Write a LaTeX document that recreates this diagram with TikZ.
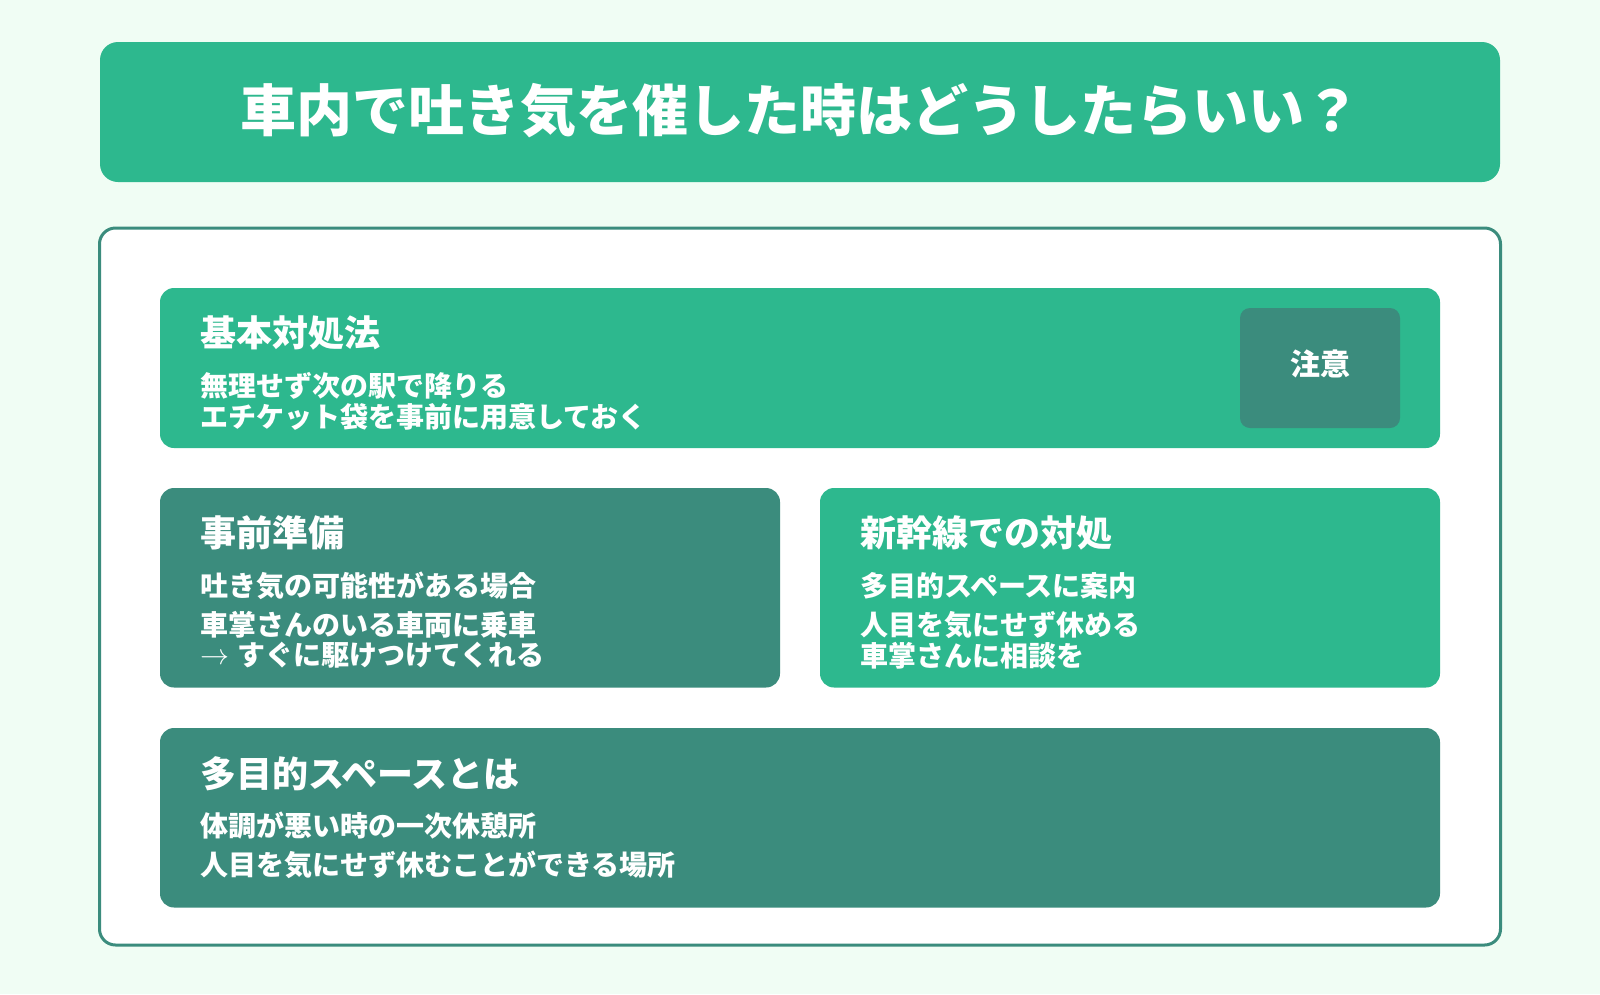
\documentclass[tikz,border=0pt]{standalone}
\usepackage{fontspec}
\setmainfont{Noto Sans CJK JP}
\definecolor{bg}{HTML}{F0FDF4}
\definecolor{grn}{HTML}{2DB88E}
\definecolor{dk}{HTML}{3B8C7D}
\newcommand{\thinarrow}{\raisebox{1pt}{\scalebox{2.9}{\fontsize{10}{12}\selectfont$\rightarrow$}}}
\tikzset{
  card/.style={anchor=north west, inner sep=0pt, outer sep=0pt, rounded corners=14pt},
  head/.style={anchor=west, inner sep=0pt, text=white, font=\bfseries\fontsize{36}{40}\selectfont},
  body/.style={anchor=west, inner sep=0pt, text=white, font=\bfseries\fontsize{28}{32}\selectfont},
}
\begin{document}
\begin{tikzpicture}[x=1pt,y=-1pt]
\path[use as bounding box, fill=bg] (0,0) rectangle (1600,994);
% title
\node[card, fill=grn, rounded corners=18pt, minimum width=1400pt, minimum height=140pt] (titlebox) at (100,42) {};
\node[inner sep=0pt, text=white, font=\bfseries\fontsize{56}{60}\selectfont] (title) at (800,111) {車内で吐き気を催した時はどうしたらいい？};
% outer panel
\node[card, fill=white, draw=dk, line width=3pt, rounded corners=16pt, minimum width=1401pt, minimum height=717pt] (panel) at (99.5,228) {};
% basic
\node[card, fill=grn, minimum width=1280pt, minimum height=160pt] (basic) at (160,288) {};
\node[head] (basich) at (200,333) {基本対処法};
\node[body] (basic1) at (200,385.5) {無理せず次の駅で降りる};
\node[body] (basic2) at (200,416.5) {エチケット袋を事前に用意しておく};
\node[card, fill=dk, rounded corners=10pt, minimum width=160pt, minimum height=120pt] (notebox) at (1240,308) {};
\node[inner sep=0pt, text=white, font=\bfseries\fontsize{30}{34}\selectfont] (note) at (1320,364) {注意};
% prep
\node[card, fill=dk, minimum width=620pt, minimum height=199.5pt] (prep) at (160,488) {};
\node[head] (preph) at (200,532.7) {事前準備};
\node[body] (prep1) at (200,586) {吐き気の可能性がある場合};
\node[body] (prep2) at (200,625.2) {車掌さんのいる車両に乗車};
\node[body, anchor=base west] (prep3) at (200,665.5) {\thinarrow\hspace{8pt}すぐに駆けつけてくれる};
% shinkansen
\node[card, fill=grn, minimum width=620pt, minimum height=199.5pt] (shin) at (820,488) {};
\node[head] (shinh) at (860,532.7) {新幹線での対処};
\node[body] (shin1) at (860,586) {多目的スペースに案内};
\node[body] (shin2) at (860,625.2) {人目を気にせず休める};
\node[body] (shin3) at (860,655.9) {車掌さんに相談を};
% space
\node[card, fill=dk, minimum width=1280pt, minimum height=179.5pt] (space) at (160,728) {};
\node[head] (spaceh) at (200,774.2) {多目的スペースとは};
\node[body] (space1) at (200,825.3) {体調が悪い時の一次休憩所};
\node[body] (space2) at (200,865.3) {人目を気にせず休むことができる場所};
\end{tikzpicture}
\end{document}
